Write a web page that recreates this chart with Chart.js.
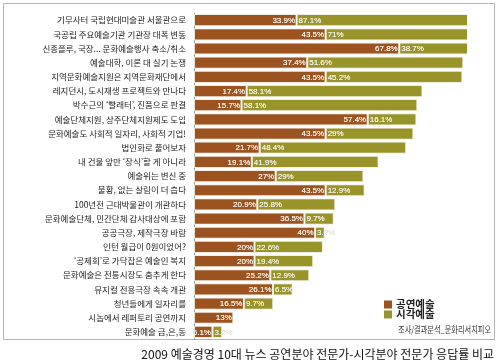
<!DOCTYPE html>
<html><head><meta charset="utf-8">
<script src="https://cdn.jsdelivr.net/npm/chart.js@4/dist/chart.umd.min.js"></script>
<style>html,body{margin:0;padding:0;background:#fff;} #wrap{position:relative;width:498px;height:364px;}</style>
</head><body><div id="wrap"><canvas id="c" width="498" height="364"></canvas></div>
<script>
const categories = [
  "기무사터 국립현대미술관 서울관으로",
  "국공립 주요예술기관 기관장 대폭 변동",
  "신종플루, 국장... 문화예술행사 축소/취소",
  "예술대학, 이론 대 실기 논쟁",
  "지역문화예술지원은 지역문화재단에서",
  "레지던시, 도시재생 프로젝트와 만나다",
  "박수근의 ‘빨래터’, 진품으로 판결",
  "예술단체지원, 상주단체지원제도 도입",
  "문화예술도 사회적 일자리, 사회적 기업!",
  "법인화로 풀어보자",
  "내 건물 앞만 ‘장식’할 게 아니라",
  "예술위는 변신 중",
  "불황, 없는 살림이 더 춥다",
  "100년전 근대박물관이 개관하다",
  "문화예술단체, 민간단체 감사대상에 포함",
  "공공극장, 제작극장 바람",
  "인턴 월급이 0원이었어?",
  "‘공제회’로 가닥잡은 예술인 복지",
  "문화예술은 전통시장도 춤추게 한다",
  "뮤지컬 전용극장 속속 개관",
  "청년들에게 일자리를",
  "시놉에서 레퍼토리 공연까지",
  "문화예술 금,은,동"
];
const performing = [33.9, 43.5, 67.8, 37.4, 43.5, 17.4, 15.7, 57.4, 43.5, 21.7, 19.1, 27, 43.5, 20.9, 36.5, 40, 20, 20, 25.2, 26.1, 16.5, 13, 6.1];
const visual     = [87.1, 71, 38.7, 51.6, 45.2, 58.1, 58.1, 16.1, 29, 48.4, 41.9, 29, 12.9, 25.8, 9.7, 3.2, 22.6, 19.4, 12.9, 6.5, 9.7, 0, 3.2];
const seriesNames = ["공연예술", "시각예술"];
const caption = "2009 예술경영 10대 뉴스 공연분야 전문가-시각분야 전문가 응답률 비교";
const sourceText = "조사/결과분석_문화리서치피오";

const BROWN = '#9d5320', OLIVE = '#99942a';
const KFONT = '"Noto Sans CJK KR", "Noto Sans", sans-serif';

const framePlugin = {
  id: 'frame',
  beforeDraw(chart) {
    const ctx = chart.ctx;
    ctx.save();
    ctx.fillStyle = '#fff';
    ctx.fillRect(0, 0, chart.width, chart.height);
    ctx.strokeStyle = '#b4b4b4';
    ctx.lineWidth = 1;
    ctx.strokeRect(3.5, 3.5, 491, 336);
    ctx.restore();
  }
};

const valueLabels = {
  id: 'valueLabels',
  afterDatasetsDraw(chart) {
    const ctx = chart.ctx;
    const area = chart.chartArea;
    chart.data.datasets.forEach((ds, di) => {
      const meta = chart.getDatasetMeta(di);
      meta.data.forEach((bar, i) => {
        const v = ds.data[i];
        if (!v) return;
        const t = v + '%';
        let x, align;
        if (di === 0) { align = 'right'; x = bar.x - 1.5; }
        else { align = 'left'; x = bar.base + 2; }
        ctx.save();
        ctx.font = '8px "Liberation Sans", Arial, sans-serif';
        ctx.textBaseline = 'middle';
        ctx.textAlign = align;
        ctx.fillStyle = '#d6d4cc';
        ctx.fillText(t, x, bar.y + 0.5);
        const left = Math.min(bar.base, bar.x), right = Math.min(Math.max(bar.base, bar.x), area.right);
        ctx.beginPath();
        ctx.rect(left, bar.y - bar.height / 2, right - left, bar.height);
        ctx.clip();
        ctx.fillStyle = '#fbf8ec';
        ctx.fillText(t, x, bar.y + 0.5);
        ctx.restore();
      });
    });
  }
};

const legendPlugin = {
  id: 'customLegend',
  afterDraw(chart) {
    const ctx = chart.ctx;
    ctx.save();
    const ys = [304.5, 314.5];
    chart.data.datasets.forEach((ds, i) => {
      ctx.fillStyle = ds.backgroundColor;
      ctx.fillRect(384, ys[i] - 4, 8, 8);
      ctx.fillStyle = '#222';
      ctx.font = 'bold 10.5px ' + KFONT;
      ctx.textAlign = 'left';
      ctx.textBaseline = 'middle';
      ctx.fillText(ds.label, 396, ys[i]);
    });
    ctx.save();
    ctx.translate(491, 329.5);
    ctx.scale(0.8, 1);
    ctx.font = '9px ' + KFONT;
    ctx.fillStyle = '#333';
    ctx.textAlign = 'right';
    ctx.textBaseline = 'middle';
    ctx.fillText(sourceText, 0, 0);
    ctx.restore();
    ctx.font = '12px ' + KFONT;
    ctx.fillStyle = '#111';
    ctx.textAlign = 'right';
    ctx.textBaseline = 'middle';
    ctx.fillText(caption, 494, 354);
    ctx.restore();
  }
};

new Chart(document.getElementById('c'), {
  type: 'bar',
  data: {
    labels: categories,
    datasets: [
      { label: seriesNames[0], data: performing, backgroundColor: BROWN, borderColor: 'rgba(240,236,220,0.9)', borderWidth: 1, borderSkipped: false, clip: 0, barPercentage: 0.86, categoryPercentage: 1 },
      { label: seriesNames[1], data: visual, backgroundColor: OLIVE, borderColor: 'rgba(240,236,220,0.9)', borderWidth: 1, borderSkipped: false, clip: 0, barPercentage: 0.86, categoryPercentage: 1 }
    ]
  },
  options: {
    indexAxis: 'y',
    responsive: false,
    animation: false,
    layout: { padding: { top: 4, bottom: 25, left: 4, right: 31 } },
    plugins: { legend: { display: false }, tooltip: { enabled: false } },
    scales: {
      x: { stacked: true, min: 0, max: 90.2, display: false },
      y: {
        stacked: true,
        grid: { display: false, drawTicks: false },
        border: { display: true, color: '#9a9a9a', width: 1 },
        ticks: { padding: 8, color: '#222', font: { family: KFONT, size: 8.5 }, autoSkip: false },
        afterFit(scale) { scale.width = 190; }
      }
    }
  },
  plugins: [framePlugin, valueLabels, legendPlugin]
});
</script>
</body></html>
